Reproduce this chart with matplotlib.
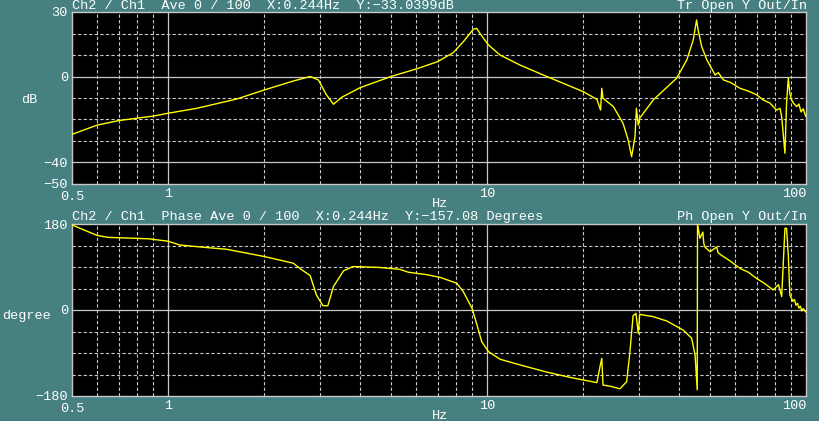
import numpy as np
import matplotlib
matplotlib.use('Agg')
import matplotlib.pyplot as plt

# magnitude trace
mag_freq = [0.5, 0.6, 0.7, 0.9, 1.0, 1.23, 1.64, 2.0, 2.47, 2.79, 2.96, 3.14, 3.30, 3.50,
            4.0, 5.0, 6.0, 7.0, 7.84, 8.43, 9.06, 9.28, 9.5, 10.1, 10.98, 12.7, 15.4,
            20.0, 22.1, 22.7, 22.9, 23.1, 24.9, 26.7, 27.7, 28.4, 29.1, 29.4, 29.8, 30.1,
            33.2, 39.3, 42.3, 44.3, 45.4, 45.9, 47.1, 48.9, 51.9, 53.1, 55.1, 58.0, 62.1,
            66.0, 70.0, 73.4, 77.0, 80.9, 82.9, 83.9, 85.9, 86.9, 88.0, 89.0, 90.1, 91.5,
            93.5, 95.0, 96.5, 98.0, 99.7]
mag_db = [-26.9, -22.6, -20.5, -18.4, -17.1, -14.8, -10.5, -6.3, -2.1, 0.0, -1.6, -8.6, -12.9, -9.7,
          -5.2, 0.0, 3.5, 6.9, 11.1, 16.2, 22.0, 22.4, 20.1, 14.7, 10.0, 5.3, 0.0,
          -7.0, -10.6, -15.6, -5.5, -10.1, -14.0, -21.8, -29.5, -37.3, -28.0, -14.8, -22.6, -19.4,
          -10.9, -0.8, 7.7, 17.0, 26.3, 21.6, 13.9, 7.7, 0.7, 1.8, -1.6, -2.8, -5.5,
          -6.8, -8.5, -10.9, -12.3, -15.6, -14.8, -18.7, -35.7, -12.5, -0.8, -8.0, -10.9, -12.5,
          -14.0, -12.8, -16.5, -15.0, -18.4]

# phase trace
ph_freq = [0.5, 0.6, 0.65, 0.87, 1.0, 1.09, 1.26, 1.53, 2.0, 2.47, 2.59, 2.79, 2.92, 3.06, 3.17,
           3.30, 3.55, 3.8, 4.62, 5.34, 5.67, 6.47, 7.15, 8.04, 8.43, 8.97, 9.3, 9.62, 10.1,
           10.98, 12.7, 15.4, 18.2, 22.1, 22.6, 22.9, 23.1, 24.5, 26.1, 27.4, 28.0, 28.7, 29.3, 29.8,
           30.1, 33.2, 36.6, 41.2, 43.8, 44.9, 45.6, 45.7, 46.5, 47.5, 47.8, 48.2, 50.0, 52.5,
           53.0, 54.2, 58.0, 62.1, 66.0, 70.0, 74.0, 78.9, 82.0, 83.9, 85.9, 86.9, 88.0, 89.0,
           90.0, 91.0, 92.0, 93.0, 94.0, 95.0, 96.0, 97.0, 98.0, 99.7]
ph_deg = [178, 156, 152, 149, 144, 136, 132, 127, 112, 98, 87, 72, 31, 9, 9,
          49, 82, 91, 89, 85, 79, 74, 68, 56, 38, 4, -31, -66, -87,
          -103, -115, -130, -141, -152, -119, -101, -157, -160, -165, -150, -94, -12, -7, -49,
          -9, -14, -23, -42, -59, -94, -167, 180, 150, 163, 140, 132, 122, 132,
          120, 115, 102, 87, 79, 66, 56, 42, 53, 28, 171, 171, 115, 31,
          25, 18, 22, 10, 14, 4, 8, -2, 3, -4]

BG = '#468080'
GRID = '#c8c8c8'
W, H = 819, 421
FONT = 'Liberation Mono'
FS = 9.7


def fx(px):
    return px / W


def fy(py):
    return 1 - py / H


def setup_axes(fig, top, ymin, ymax, ylab_ticks, solid_y, dashed_y):
    ax = fig.add_axes([fx(72), fy(top + 172), fx(734), 172 / H])
    ax.set_facecolor('black')
    ax.set_xscale('log')
    ax.set_xlim(0.5, 100)
    ax.set_ylim(ymin, ymax)
    for s in ax.spines.values():
        s.set_color(GRID)
        s.set_linewidth(1.0)
    minor_x = [0.6, 0.7, 0.8, 0.9] + list(range(2, 10)) + list(range(20, 100, 10))
    for v in minor_x:
        ax.axvline(v, color=GRID, lw=0.8, ls=(0, (3, 2)), zorder=1)
    for v in [1, 10]:
        ax.axvline(v, color=GRID, lw=0.9, zorder=1)
    for v in dashed_y:
        ax.axhline(v, color=GRID, lw=0.8, ls=(0, (3, 2)), zorder=1)
    for v in solid_y:
        ax.axhline(v, color=GRID, lw=0.9, zorder=1)
    ax.set_xticks([1, 10, 100])
    ax.set_xticklabels(['1', '10', '100'])
    ax.xaxis.set_minor_locator(matplotlib.ticker.NullLocator())
    ax.set_yticks(ylab_ticks)
    ax.set_yticklabels([str(t).replace('-', '\u2212') for t in ylab_ticks])
    ax.tick_params(length=0, colors='white', labelsize=FS, pad=3)
    for lab in ax.get_xticklabels() + ax.get_yticklabels():
        lab.set_family(FONT)
    ax.get_xticklabels()[-1].set_horizontalalignment('right')
    return ax


fig = plt.figure(figsize=(W / 100, H / 100), dpi=100)
fig.patch.set_facecolor(BG)

# magnitude panel
ax1 = setup_axes(fig, 12, -50, 30, [30, 0, -40, -50], [0, -40], [20, 10, -10, -20, -30])
ax1.plot(mag_freq, mag_db, color='#ffff00', lw=1.0, zorder=3)

# phase panel
ax2 = setup_axes(fig, 224, -180, 180, [180, 0, -180], [0], [135, 90, 45, -45, -90, -135])
ax2.plot(ph_freq, ph_deg, color='#ffff00', lw=1.0, zorder=3)

txt = dict(color='white', fontsize=FS, family=FONT)
fig.text(fx(72), fy(6), 'Ch2 / Ch1  Ave 0 / 100  X:0.244Hz  Y:\u221233.0399dB', va='center', ha='left', **txt)
fig.text(fx(807), fy(6), 'Tr Open Y Out/In', va='center', ha='right', **txt)
fig.text(fx(72), fy(217), 'Ch2 / Ch1  Phase Ave 0 / 100  X:0.244Hz  Y:\u2212157.08 Degrees', va='center', ha='left', **txt)
fig.text(fx(807), fy(217), 'Ph Open Y Out/In', va='center', ha='right', **txt)

fig.text(fx(72), fy(197), '0.5', va='center', ha='center', **txt)
fig.text(fx(72), fy(409), '0.5', va='center', ha='center', **txt)
fig.text(fx(440), fy(204), 'Hz', va='center', ha='center', **txt)
fig.text(fx(440), fy(416), 'Hz', va='center', ha='center', **txt)
fig.text(fx(29), fy(100), 'dB', va='center', ha='center', **txt)
fig.text(fx(2), fy(316), 'degree', va='center', ha='left', **txt)

fig.savefig('out.png', dpi=100, facecolor=BG)
